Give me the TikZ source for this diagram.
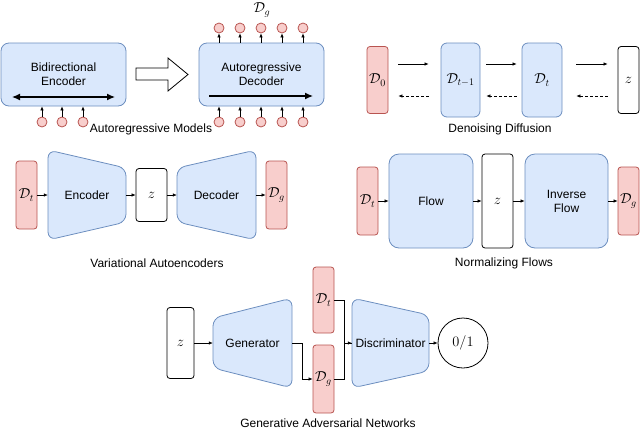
\documentclass[tikz,border=0pt]{standalone}
\usepackage[no-math]{fontspec}
\setmainfont{Liberation Sans}
\usepackage{amsmath}
\usepackage{amssymb}
\usepackage{tikz}
\usetikzlibrary{arrows.meta}
\definecolor{bluefill}{HTML}{DAE8FC}
\definecolor{bluedraw}{HTML}{6C8EBF}
\definecolor{redfill}{HTML}{F8CECC}
\definecolor{reddraw}{HTML}{B85450}

\begin{document}
\begin{tikzpicture}[x=1pt, y=-1pt, font=\fontsize{12}{14}\selectfont]
\tikzstyle{mth}=[font=\fontsize{14}{16}\selectfont]
\tikzstyle{blk}=[draw=bluedraw, fill=bluefill, line width=0.8pt, align=center, inner sep=0pt]
\tikzstyle{trap}=[draw=bluedraw, fill=bluefill, line width=0.8pt, rounded corners=8pt]
\tikzstyle{dat}=[draw=reddraw, fill=redfill, line width=0.8pt, rounded corners=3pt, minimum width=21pt, inner sep=0pt, mth]
\tikzstyle{lat}=[draw, line width=0.8pt, rounded corners=3pt, inner sep=0pt, mth]
\tikzstyle{tok}=[circle, draw=reddraw, fill=redfill, line width=0.8pt, minimum size=10pt, inner sep=0pt]
\tikzstyle{arr}=[line width=0.6pt, -{Latex[length=4pt, width=3.5pt]}]
\tikzstyle{bold}=[line width=1.3pt, -{Latex[length=8pt, width=7pt]}]
\tikzstyle{lbl}=[inner sep=0pt, align=center]
\useasboundingbox (0,0) rectangle (640,432);

% autoregressive models
\node[blk, rounded corners=8pt, minimum width=125pt, minimum height=63pt] (benc) at (63.5,74.5) {Bidirectional\\Encoder};
\node[blk, rounded corners=8pt, minimum width=125pt, minimum height=63pt] (adec) at (261.5,74.5) {Autoregressive\\Decoder};
\coordinate (bl) at (12,97);
\coordinate (br) at (115,97);
\coordinate (al) at (209,96);
\coordinate (ar) at (313,96);
\draw[bold, {Latex[length=8pt, width=7pt]}-{Latex[length=8pt, width=7pt]}] (bl) -- (br);
\draw[bold] (al) -- (ar);
\draw[line width=0.8pt, fill=white] (136,68) -- (168,68) -- (168,58) -- (188,74.5) -- (168,91) -- (168,80) -- (136,80) -- cycle;
\foreach \i/\x in {1/42, 2/62, 3/83}{
  \node[tok] (in\i) at (\x,122) {};
  \draw[arr] (in\i) -- (in\i |- benc.south);
}
\foreach \i/\x in {1/219, 2/240, 3/261, 4/282, 5/303}{
  \node[tok] (din\i) at (\x,122) {};
  \node[tok] (dout\i) at (\x,28) {};
  \draw[arr] (din\i) -- (din\i |- adec.south);
  \draw[arr] (dout\i |- adec.north) -- (dout\i);
}
\node[lbl, mth] (dg0) at (262,10) {$\mathcal{D}_g$};
\node[lbl] (cap1) at (151,129) {Autoregressive Models};

% denoising diffusion
\node[dat, minimum height=67pt] (d0) at (377.5,80) {$\mathcal{D}_0$};
\node[blk, mth, rounded corners=6pt, minimum width=39pt, minimum height=74pt] (dtm) at (460.5,80) {$\mathcal{D}_{t-1}$};
\node[blk, mth, rounded corners=6pt, minimum width=40pt, minimum height=74pt] (dt) at (542,80) {$\mathcal{D}_t$};
\node[lat, minimum width=21pt, minimum height=67pt] (zd) at (628.5,80) {$z$};
\draw[arr, shorten <=10pt, shorten >=12pt] ([yshift=16pt]d0.east) -- ([yshift=16pt]dtm.west);
\draw[arr, shorten <=6pt, shorten >=5pt] ([yshift=16pt]dtm.east) -- ([yshift=16pt]dt.west);
\draw[arr, shorten <=14pt, shorten >=10pt] ([yshift=16pt]dt.east) -- ([yshift=16pt]zd.west);
\draw[arr, dash pattern=on 3pt off 2pt, shorten <=12pt, shorten >=10pt] ([yshift=-16pt]dtm.west) -- ([yshift=-16pt]d0.east);
\draw[arr, dash pattern=on 3pt off 2pt, shorten <=5pt, shorten >=6pt] ([yshift=-16pt]dt.west) -- ([yshift=-16pt]dtm.east);
\draw[arr, dash pattern=on 3pt off 2pt, shorten <=10pt, shorten >=14pt] ([yshift=-16pt]zd.west) -- ([yshift=-16pt]dt.east);
\node[lbl] (cap2) at (500,129) {Denoising Diffusion};

% variational autoencoders
\node[dat, minimum height=68pt] (dt1) at (26.5,195) {$\mathcal{D}_t$};
\draw[trap] (48,150) -- (126,168) -- (126,222) -- (48,240) -- cycle;
\node[lbl, minimum width=78pt] (enc) at (87,195) {Encoder};
\node[lat, minimum width=31pt, minimum height=53pt] (z1) at (151.5,195) {$z$};
\draw[trap] (177,168) -- (256,150) -- (256,240) -- (177,222) -- cycle;
\node[lbl, minimum width=79pt] (dec) at (216.5,195) {Decoder};
\node[dat, minimum height=68pt] (dg1) at (276.5,195) {$\mathcal{D}_g$};
\path[arr] (dt1) edge (enc)
  (enc) edge (z1)
  (z1) edge (dec)
  (dec) edge (dg1);
\node[lbl] (cap3) at (157,263) {Variational Autoencoders};

% normalizing flows
\node[dat, minimum height=68pt] (dt2) at (367.5,201) {$\mathcal{D}_t$};
\node[blk, rounded corners=10pt, minimum width=84pt, minimum height=94pt] (flow) at (431,201) {Flow};
\node[lat, minimum width=31pt, minimum height=94pt] (z2) at (497.5,201) {$z$};
\node[blk, rounded corners=10pt, minimum width=83pt, minimum height=94pt] (iflow) at (566.5,201) {Inverse\\Flow};
\node[dat, minimum height=68pt] (dg2) at (628.5,201) {$\mathcal{D}_g$};
\path[arr] (dt2) edge (flow)
  (flow) edge (z2)
  (z2) edge (iflow)
  (iflow) edge (dg2);
\node[lbl] (cap4) at (504,263) {Normalizing Flows};

% generative adversarial networks
\node[lat, minimum width=27pt, minimum height=71pt] (z3) at (180.5,343) {$z$};
\draw[trap] (213,318) -- (292,298) -- (292,388) -- (213,368) -- cycle;
\node[lbl, minimum width=79pt] (gen) at (252.5,343) {Generator};
\node[dat, minimum height=66pt] (dt3) at (323.5,300) {$\mathcal{D}_t$};
\node[dat, minimum height=68pt] (dg3) at (323.5,379) {$\mathcal{D}_g$};
\draw[trap] (352,298) -- (429,315) -- (429,371) -- (352,388) -- cycle;
\node[lbl, minimum width=77pt] (disc) at (390.5,343) {Discriminator};
\node[circle, draw, line width=0.8pt, minimum size=50pt, inner sep=0pt, font=\fontsize{15}{17}\selectfont] (res) at (463,343) {$0/1$};
\draw[arr] (z3) -- (gen);
\draw[arr] (gen.east) -- ++(10,0) |- (dg3.west);
\draw[line width=0.6pt] (dt3.east) -- ++(10,0) |- (disc.west);
\draw[arr] (dg3.east) -- ++(10,0) |- (disc.west);
\draw[arr] (disc) -- (res);
\node[lbl] (cap5) at (328,423) {Generative Adversarial Networks};
\end{tikzpicture}
\end{document}
